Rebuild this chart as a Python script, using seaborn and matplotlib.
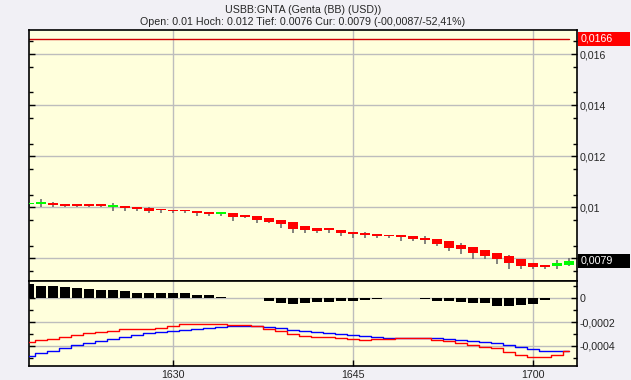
import matplotlib
matplotlib.use("Agg")
import matplotlib.pyplot as plt
from matplotlib.patches import Rectangle
import seaborn as sns
import numpy as np
import pandas as pd

# ---------------- data ----------------
times = ["1618", "1619", "1620", "1621", "1622", "1623", "1624", "1625", "1626", "1627",
         "1628", "1629", "1630", "1631", "1632", "1633", "1634", "1635", "1636", "1637",
         "1638", "1639", "1640", "1641", "1642", "1643", "1644", "1645", "1646", "1647",
         "1648", "1649", "1650", "1651", "1652", "1653", "1654", "1655", "1656", "1657",
         "1658", "1659", "1700", "1701", "1702", "1703"]
opens = [0.01012, 0.01014, 0.01018, 0.01013, 0.01010, 0.01010, 0.01010, 0.01002, 0.01005, 0.01001,
         0.00997, 0.00993, 0.00989, 0.00989, 0.00984, 0.00982, 0.00975, 0.00978, 0.00970, 0.00966,
         0.00958, 0.00950, 0.00942, 0.00926, 0.00919, 0.00915, 0.00911, 0.00903, 0.00899, 0.00895,
         0.00891, 0.00891, 0.00887, 0.00880, 0.00875, 0.00868, 0.00852, 0.00844, 0.00833, 0.00821,
         0.00809, 0.00797, 0.00781, 0.00774, 0.00770, 0.00774]
closes = [0.01014, 0.01016, 0.01010, 0.01006, 0.01006, 0.01006, 0.01006, 0.01008, 0.00999, 0.00995,
          0.00987, 0.00989, 0.00985, 0.00985, 0.00978, 0.00974, 0.00977, 0.00963, 0.00962, 0.00950,
          0.00942, 0.00935, 0.00915, 0.00911, 0.00907, 0.00911, 0.00899, 0.00895, 0.00891, 0.00887,
          0.00887, 0.00884, 0.00876, 0.00872, 0.00856, 0.00840, 0.00837, 0.00821, 0.00809, 0.00797,
          0.00781, 0.00770, 0.00766, 0.00766, 0.00781, 0.00790]
highs = [0.01016, 0.01033, 0.01022, 0.01013, 0.01014, 0.01014, 0.01014, 0.01017, 0.01005, 0.01001,
         0.01002, 0.00993, 0.00989, 0.00989, 0.00984, 0.00982, 0.00982, 0.00978, 0.00970, 0.00966,
         0.00958, 0.00950, 0.00942, 0.00926, 0.00919, 0.00915, 0.00911, 0.00903, 0.00903, 0.00895,
         0.00891, 0.00891, 0.00887, 0.00887, 0.00875, 0.00868, 0.00860, 0.00844, 0.00833, 0.00821,
         0.00813, 0.00797, 0.00781, 0.00774, 0.00793, 0.00801]
lows = [0.01000, 0.01000, 0.01000, 0.01000, 0.01000, 0.01000, 0.01000, 0.00987, 0.00987, 0.00986,
        0.00979, 0.00979, 0.00979, 0.00979, 0.00967, 0.00967, 0.00967, 0.00947, 0.00958, 0.00938,
        0.00938, 0.00919, 0.00899, 0.00899, 0.00899, 0.00899, 0.00887, 0.00880, 0.00880, 0.00880,
        0.00880, 0.00868, 0.00868, 0.00856, 0.00848, 0.00829, 0.00817, 0.00797, 0.00797, 0.00778,
        0.00758, 0.00758, 0.00758, 0.00758, 0.00758, 0.00770]
macd = [-3.67, -3.50, -3.39, -3.28, -3.08, -2.94, -2.83, -2.72, -2.61, -2.56,
        -2.56, -2.47, -2.31, -2.19, -2.19, -2.19, -2.19, -2.25, -2.28, -2.36,
        -2.56, -2.72, -2.97, -3.17, -3.28, -3.28, -3.36, -3.42, -3.53, -3.44,
        -3.39, -3.36, -3.36, -3.36, -3.50, -3.61, -3.75, -3.89, -4.06, -4.19,
        -4.47, -4.75, -4.89, -4.89, -4.72, -4.44]
signal = [-4.83, -4.61, -4.39, -4.17, -3.94, -3.78, -3.58, -3.42, -3.22, -3.08,
          -2.94, -2.83, -2.72, -2.64, -2.56, -2.47, -2.42, -2.36, -2.36, -2.36,
          -2.42, -2.53, -2.64, -2.72, -2.86, -2.94, -3.03, -3.11, -3.19, -3.28,
          -3.31, -3.31, -3.31, -3.31, -3.36, -3.42, -3.50, -3.58, -3.67, -3.78,
          -3.92, -4.08, -4.25, -4.42, -4.42, -4.42]
hist = [1.17, 1.03, 1.03, 0.94, 0.86, 0.78, 0.69, 0.69, 0.58, 0.44,
        0.44, 0.44, 0.44, 0.44, 0.28, 0.28, 0.08, 0.0, 0.0, -0.03,
        -0.22, -0.39, -0.50, -0.39, -0.33, -0.33, -0.25, -0.25, -0.17, -0.06,
        0.0, 0.0, 0.0, -0.04, -0.25, -0.25, -0.33, -0.42, -0.42, -0.67,
        -0.67, -0.58, -0.50, -0.17, 0.0, 0.0]
x_tick_labels = ["1630", "1645", "1700"]
upper_ticks = [0.008, 0.01, 0.012, 0.014, 0.016]
upper_tick_labels = ["", "0,01", "0,012", "0,014", "0,016"]
lower_ticks = [0.0, -0.0002, -0.0004]
lower_tick_labels = ["0", "-0,0002", "-0,0004"]
ref_level = 0.0166
ref_label = "0,0166"
cur_level = 0.0079
cur_label = "0,0079"
title1 = "USBB:GNTA (Genta (BB) (USD))"
title2 = "Open: 0.01 Hoch: 0.012 Tief: 0.0076 Cur: 0.0079 (-00,0087/-52,41%)"

# ---------------- prep ----------------
def to_min(s):
    return int(s[:2]) * 60 + int(s[2:])

df = pd.DataFrame({
    "t": [to_min(s) for s in times],
    "open": opens, "close": closes, "high": highs, "low": lows,
    "macd": np.array(macd) * 1e-4, "signal": np.array(signal) * 1e-4,
    "hist": np.array(hist) * 1e-4,
})
xticks = [to_min(s) for s in x_tick_labels]

sns.set_theme(style="white")
plt.rcParams["font.family"] = ["Liberation Sans", "DejaVu Sans"]

W, H = 631, 380
fig = plt.figure(figsize=(W / 100, H / 100), dpi=100)
fig.patch.set_facecolor("#F1F0F5")
bg = "#FFFFDC"
grid_c = "#BDBDBD"
FS = 7.7

L, R = 29, 577
T1, B1, B2 = 30, 281, 366
ax1 = fig.add_axes([L / W, 1 - B1 / H, (R - L) / W, (B1 - T1) / H])
ax2 = fig.add_axes([L / W, 1 - B2 / H, (R - L) / W, (B2 - B1) / H], sharex=ax1)

xmin = df["t"].iloc[0]
xmax = df["t"].iloc[-1] + 0.67

for ax in (ax1, ax2):
    ax.set_facecolor(bg)
    for s in ax.spines.values():
        s.set_color("black")
        s.set_linewidth(1.2)
    ax.grid(False)
    for xt in xticks:
        ax.axvline(xt, color=grid_c, lw=1, zorder=0)

# ---------------- candles ----------------
ax1.set_xlim(xmin, xmax)
ax1.set_ylim(0.00711, 0.01695)
for yt in upper_ticks:
    ax1.axhline(yt, color=grid_c, lw=1, zorder=0)

ax1.vlines(df["t"], df["low"], df["high"], color="#6E6E6E", lw=1.2, zorder=2)
up = df["close"] > df["open"]
body_h = (df["close"] - df["open"]).abs().clip(lower=0.00006)
body_b = np.minimum(df["open"], df["close"])
ax1.bar(df["t"][up], body_h[up], bottom=body_b[up], width=0.9,
        color="#00FF00", edgecolor="none", zorder=3)
ax1.bar(df["t"][~up], body_h[~up], bottom=body_b[~up], width=0.9,
        color="#FF0000", edgecolor="none", zorder=3)
ax1.axhline(ref_level, xmax=0.985, color="#D00000", lw=1, zorder=2)

ax1.yaxis.tick_right()
ax1.set_yticks(upper_ticks)
ax1.set_yticklabels(upper_tick_labels)
ax1.set_yticks(np.arange(0.0075, 0.0170, 0.001), minor=True)
ax1.tick_params(axis="y", which="major", right=True, left=True, direction="in",
                length=4, width=1, color="black", labelsize=FS, pad=2)
ax1.tick_params(axis="y", which="minor", right=True, left=True, direction="in",
                length=3, width=1, color="black")
ax1.tick_params(axis="x", which="both", bottom=False, labelbottom=False)

# value boxes (right margin)
def value_box(level, label, fc):
    yfig = fig.transFigure.inverted().transform(ax1.transData.transform((xmin, level)))[1]
    fig.patches.append(Rectangle((578 / W, yfig - 7 / H), 52 / W, 14 / H,
                                 transform=fig.transFigure, fc=fc, ec="none", zorder=5))
    fig.text(581 / W, yfig, label, ha="left", va="center", fontsize=FS,
             color="white", zorder=6)

value_box(ref_level, ref_label, "#FF0000")
value_box(cur_level, cur_label, "black")

# ---------------- MACD panel ----------------
ax2.set_ylim(-0.000567, 0.000142)
for yt in lower_ticks:
    ax2.axhline(yt, color=grid_c, lw=1, zorder=0)
ax2.bar(df["t"], df["hist"], width=0.9, color="black", edgecolor="none", zorder=2)
sns.lineplot(data=df, x="t", y="signal", ax=ax2, color="#0000FF", lw=1,
             drawstyle="steps-mid", zorder=3)
sns.lineplot(data=df, x="t", y="macd", ax=ax2, color="#FF0000", lw=1,
             drawstyle="steps-mid", zorder=4)
ax2.set_xlim(xmin, xmax)
ax2.set_xlabel("")
ax2.set_ylabel("")
ax2.yaxis.tick_right()
ax2.set_yticks(lower_ticks)
ax2.set_yticklabels(lower_tick_labels)
ax2.set_yticks([-0.0005, -0.0003, -0.0001, 0.0001], minor=True)
ax2.tick_params(axis="y", which="major", right=True, left=True, direction="in",
                length=4, width=1, color="black", labelsize=FS, pad=2)
ax2.tick_params(axis="y", which="minor", right=True, left=True, direction="in",
                length=3, width=1, color="black")
ax2.set_xticks(xticks)
ax2.set_xticklabels(x_tick_labels)
ax2.tick_params(axis="x", which="major", bottom=True, direction="in", length=4,
                width=1, color="black", labelsize=FS, pad=3)

# ---------------- titles ----------------
cx = (L + R) / 2 / W
fig.text(cx, 1 - 10 / H, title1, ha="center", va="center", fontsize=FS)
fig.text(cx, 1 - 22 / H, title2, ha="center", va="center", fontsize=FS)

fig.savefig("out.png", dpi=100, facecolor=fig.get_facecolor())
